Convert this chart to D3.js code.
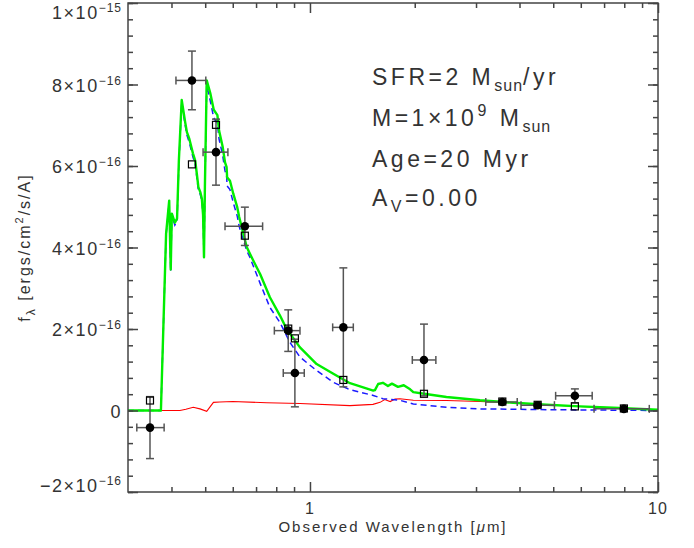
<!DOCTYPE html>
<html>
<head>
<meta charset="utf-8">
<script src="https://cdn.jsdelivr.net/npm/d3@7"></script>
<style>
  body { margin: 0; background: #fff; }
  text { font-family: "Liberation Sans", Arial, sans-serif; fill: #333; }
</style>
</head>
<body>
<svg id="chart" width="694" height="548"></svg>
<script>
// flux values are in units of 1e-16 ergs/cm2/s/A, wavelengths in micron

// total model (green)
const greenWave = [0.300, 0.371, 0.373, 0.386, 0.394, 0.398, 0.401, 0.409, 0.415, 0.420,
  0.428, 0.438, 0.443, 0.450, 0.461, 0.468, 0.473, 0.478, 0.484, 0.489,
  0.493, 0.496, 0.499, 0.505, 0.517, 0.529, 0.542, 0.548, 0.561, 0.570,
  0.576, 0.578, 0.589, 0.602, 0.618, 0.626, 0.658, 0.687, 0.719, 0.767,
  0.820, 0.857, 0.936, 1.045, 1.167, 1.303, 1.520, 1.537, 1.570, 1.620,
  1.675, 1.720, 1.790, 1.860, 1.940, 1.981, 2.126, 2.467, 3.08, 3.84,
  4.79, 5.97, 7.44, 10.0];
const greenFlux = [0, 0, 0, 4.34, 5.15, 3.46, 4.83, 4.61, 4.71, 6.13,
  7.62, 7.07, 6.83, 6.67, 6.31, 6.13, 5.81, 5.48, 5.36, 5.2,
  4.8, 3.76, 5.5, 8.10, 7.79, 7.38, 7.25, 6.87, 6.48, 6.09,
  5.97, 5.72, 5.64, 5.32, 4.99, 4.75, 4.01, 3.68, 3.35, 2.78,
  2.33, 2.00, 1.55, 1.14, 0.90, 0.67, 0.49, 0.50, 0.65, 0.68,
  0.60, 0.66, 0.58, 0.62, 0.52, 0.45, 0.41, 0.33, 0.25, 0.19,
  0.14, 0.10, 0.066, 0.017];

// stellar component (blue dashed)
const blueWave = [0.300, 0.371, 0.373, 0.386, 0.394, 0.398, 0.401, 0.409, 0.415, 0.420,
  0.428, 0.438, 0.443, 0.450, 0.461, 0.468, 0.473, 0.478, 0.484, 0.489,
  0.493, 0.496, 0.499, 0.505, 0.517, 0.529, 0.542, 0.548, 0.561, 0.570,
  0.576, 0.578, 0.589, 0.602, 0.618, 0.626, 0.658, 0.672, 0.719, 0.767,
  0.820, 0.876, 0.936, 1.045, 1.167, 1.303, 1.520, 1.620, 1.813, 1.981,
  2.467, 3.08, 4.79, 10.0];
const blueFlux = [0, 0, 0, 4.30, 5.10, 3.42, 4.78, 4.55, 4.64, 6.05,
  7.55, 7.00, 6.76, 6.58, 6.22, 6.05, 5.72, 5.40, 5.30, 5.15,
  4.76, 3.76, 5.48, 7.98, 7.60, 7.18, 7.04, 6.66, 6.27, 5.88,
  5.76, 5.51, 5.42, 5.10, 4.77, 4.52, 3.92, 3.76, 3.12, 2.53,
  2.16, 1.67, 1.31, 0.98, 0.69, 0.51, 0.37, 0.29, 0.25, 0.16,
  0.08, 0.04, 0.02, 0.0];

// nebular component (red)
const redWave = [0.300, 0.423, 0.440, 0.462, 0.483, 0.505, 0.528, 0.551, 0.600, 0.751,
  0.936, 1.303, 1.517, 1.590, 1.640, 1.700, 1.755, 1.813, 1.981, 2.467,
  3.08, 3.84, 4.79, 5.97, 7.44, 10.0];
const redFlux = [0, 0, 0.03, 0.08, 0.04, -0.02, 0.20, 0.21, 0.22, 0.19,
  0.17, 0.12, 0.15, 0.20, 0.27, 0.22, 0.28, 0.29, 0.25, 0.245,
  0.22, 0.19, 0.14, 0.10, 0.066, 0.017];

// observed photometry
const obsWave = [0.347, 0.458, 0.537, 0.650, 0.866, 0.905, 1.247, 2.126, 3.57, 4.51, 5.77, 7.98];
const obsWaveLo = [0.318, 0.412, 0.493, 0.570, 0.790, 0.838, 1.162, 1.968, 3.20, 4.04, 5.08, 6.55];
const obsWaveHi = [0.381, 0.502, 0.581, 0.731, 0.936, 0.963, 1.332, 2.300, 3.94, 5.04, 6.47, 9.44];
const obsFlux = [-0.42, 8.10, 6.34, 4.52, 1.96, 0.92, 2.04, 1.24, 0.21, 0.13, 0.36, 0.04];
const obsErr = [0.76, 0.72, 0.81, 0.47, 0.51, 0.83, 1.46, 0.88, 0.03, 0.03, 0.17, 0.03];

// model photometry
const modelFlux = [0.245, 6.04, 7.01, 4.29, 2.01, 1.77, 0.75, 0.41, 0.22, 0.14, 0.10, 0.05];

const xMajorTicks = [1, 10];
const xTickLabels = ['1', '10'];
const xMinorTicks = [0.4, 0.5, 0.6, 0.7, 0.8, 0.9, 2, 3, 4, 5, 6, 7, 8, 9];
const yMajorTicks = [-2, 0, 2, 4, 6, 8, 10];
const yTickMain = ['\u22122\u00d710', '0', '2\u00d710', '4\u00d710', '6\u00d710', '8\u00d710', '1\u00d710'];
const yTickExp = ['\u221216', '', '\u221216', '\u221216', '\u221216', '\u221216', '\u221215'];

const svg = d3.select('#chart');
const pLeft = 128, pRight = 658, pTop = 3, pBottom = 492;

const x = d3.scaleLog().domain([0.3, 10]).range([pLeft, pRight]);
const y = d3.scaleLinear().domain([-2, 10]).range([pBottom, pTop]);

svg.append('defs').append('clipPath').attr('id', 'plot')
  .append('rect').attr('x', pLeft).attr('y', pTop)
  .attr('width', pRight - pLeft).attr('height', pBottom - pTop);

const line = d3.line().x(d => x(d[0])).y(d => y(d[1]));
const curves = svg.append('g').attr('clip-path', 'url(#plot)');

curves.append('path')
  .attr('d', line(d3.zip(redWave, redFlux)))
  .attr('fill', 'none').attr('stroke', '#ff0000').attr('stroke-width', 1.1);
curves.append('path')
  .attr('d', line(d3.zip(blueWave, blueFlux)))
  .attr('fill', 'none').attr('stroke', '#1a1aff').attr('stroke-width', 1.5)
  .attr('stroke-dasharray', '6,4');
curves.append('path')
  .attr('d', line(d3.zip(greenWave, greenFlux)))
  .attr('fill', 'none').attr('stroke', '#00ee00').attr('stroke-width', 2.4)
  .attr('stroke-linejoin', 'round');

// error bars
const errCol = '#555';
const pts = obsWave.map((w, i) => ({ w, lo: obsWaveLo[i], hi: obsWaveHi[i], f: obsFlux[i], e: obsErr[i], m: modelFlux[i] }));
const eb = svg.append('g').attr('stroke', errCol).attr('stroke-width', 1.5);
pts.forEach(p => {
  const cx = x(p.w), cy = y(p.f);
  eb.append('line').attr('x1', x(p.lo)).attr('x2', x(p.hi)).attr('y1', cy).attr('y2', cy);
  eb.append('line').attr('x1', x(p.lo)).attr('x2', x(p.lo)).attr('y1', cy - 4).attr('y2', cy + 4);
  eb.append('line').attr('x1', x(p.hi)).attr('x2', x(p.hi)).attr('y1', cy - 4).attr('y2', cy + 4);
  eb.append('line').attr('x1', cx).attr('x2', cx).attr('y1', y(p.f - p.e)).attr('y2', y(p.f + p.e));
  eb.append('line').attr('x1', cx - 4).attr('x2', cx + 4).attr('y1', y(p.f - p.e)).attr('y2', y(p.f - p.e));
  eb.append('line').attr('x1', cx - 4).attr('x2', cx + 4).attr('y1', y(p.f + p.e)).attr('y2', y(p.f + p.e));
});

svg.append('g').selectAll('rect').data(pts).join('rect')
  .attr('x', d => x(d.w) - 3.5).attr('y', d => y(d.m) - 3.5)
  .attr('width', 7).attr('height', 7)
  .attr('fill', 'none').attr('stroke', '#000').attr('stroke-width', 1.2);

svg.append('g').selectAll('circle').data(pts).join('circle')
  .attr('cx', d => x(d.w)).attr('cy', d => y(d.f)).attr('r', 4.3)
  .attr('fill', '#000');

// axes: ticks on all four sides, pointing inward
const axCol = '#444';
function ticks(axis, tr) {
  const g = svg.append('g').attr('transform', tr).call(axis);
  g.select('.domain').remove();
  g.selectAll('line').attr('stroke', axCol).attr('stroke-width', 1.5);
  g.selectAll('text').remove();
}
ticks(d3.axisBottom(x).tickValues(xMajorTicks).tickSize(-10), `translate(0,${pBottom})`);
ticks(d3.axisBottom(x).tickValues(xMinorTicks).tickSize(-5), `translate(0,${pBottom})`);
ticks(d3.axisTop(x).tickValues(xMajorTicks).tickSize(-10), `translate(0,${pTop})`);
ticks(d3.axisTop(x).tickValues(xMinorTicks).tickSize(-5), `translate(0,${pTop})`);
const yMinor = d3.range(-2, 10.001, 0.4);
ticks(d3.axisLeft(y).tickValues(yMajorTicks).tickSize(-10), `translate(${pLeft},0)`);
ticks(d3.axisLeft(y).tickValues(yMinor).tickSize(-5), `translate(${pLeft},0)`);
ticks(d3.axisRight(y).tickValues(yMajorTicks).tickSize(-10), `translate(${pRight},0)`);
ticks(d3.axisRight(y).tickValues(yMinor).tickSize(-5), `translate(${pRight},0)`);

svg.append('rect').attr('x', pLeft).attr('y', pTop)
  .attr('width', pRight - pLeft).attr('height', pBottom - pTop)
  .attr('fill', 'none').attr('stroke', axCol).attr('stroke-width', 1.5);

// tick labels
svg.append('g').selectAll('text').data(xMajorTicks).join('text')
  .attr('x', d => x(d)).attr('y', 514)
  .attr('text-anchor', 'middle').attr('font-size', 16).attr('letter-spacing', 1)
  .text((d, i) => xTickLabels[i]);

const yl = svg.append('g').selectAll('text').data(yMajorTicks).join('text')
  .attr('x', 122)
  .attr('y', d => Math.min(Math.max(y(d) + 7, 19), 492))
  .attr('text-anchor', 'end').attr('font-size', 18).attr('letter-spacing', 1.5);
yl.append('tspan').text((d, i) => yTickMain[i]);
yl.append('tspan').attr('font-size', 12).attr('dy', -7).attr('letter-spacing', 1).text((d, i) => yTickExp[i]);

// axis titles
const xt = svg.append('text').attr('x', (pLeft + pRight) / 2).attr('y', 532)
  .attr('text-anchor', 'middle').attr('font-size', 15).attr('letter-spacing', 2);
xt.append('tspan').text('Observed Wavelength [');
xt.append('tspan').attr('font-style', 'italic').text('\u03bc');
xt.append('tspan').text('m]');

const yt = svg.append('text')
  .attr('transform', `translate(30,${(pTop + pBottom) / 2}) rotate(-90)`)
  .attr('text-anchor', 'middle').attr('font-size', 16).attr('letter-spacing', 2);
yt.append('tspan').text('f');
yt.append('tspan').attr('font-size', 12).attr('dy', 5).text('\u03bb');
yt.append('tspan').attr('dy', -5).text(' [ergs/cm');
yt.append('tspan').attr('font-size', 11).attr('dy', -7).text('2');
yt.append('tspan').attr('dy', 7).text('/s/A]');

// annotation
const ann = svg.append('g').attr('font-size', 23).attr('letter-spacing', 3.5);
const l1 = ann.append('text').attr('x', 372).attr('y', 85);
l1.append('tspan').text('SFR=2 M');
l1.append('tspan').attr('font-size', 16).attr('dy', 6).attr('letter-spacing', 1).text('sun');
l1.append('tspan').attr('dy', -6).text('/yr');
const l2 = ann.append('text').attr('x', 372).attr('y', 126);
l2.append('tspan').text('M=1\u00d710');
l2.append('tspan').attr('font-size', 16).attr('dy', -10).text('9');
l2.append('tspan').attr('dy', 10).text(' M');
l2.append('tspan').attr('font-size', 16).attr('dy', 6).attr('letter-spacing', 1).text('sun');
ann.append('text').attr('x', 372).attr('y', 167).text('Age=20 Myr');
const l4 = ann.append('text').attr('x', 372).attr('y', 206);
l4.append('tspan').text('A');
l4.append('tspan').attr('font-size', 16).attr('dy', 6).text('V');
l4.append('tspan').attr('dy', -6).text('=0.00');
</script>
</body>
</html>
